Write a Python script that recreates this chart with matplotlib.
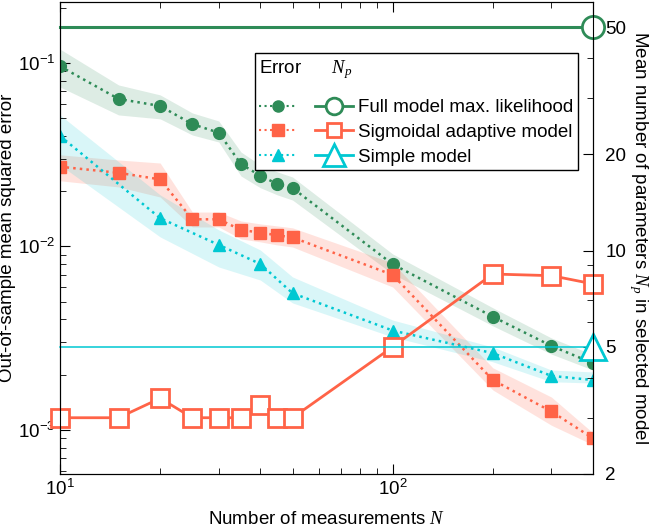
import numpy as np
import matplotlib
matplotlib.use('Agg')
import matplotlib.pyplot as plt
from matplotlib.lines import Line2D
from matplotlib.legend_handler import HandlerTuple
from matplotlib.ticker import NullFormatter, FixedLocator, FixedFormatter

plt.rcParams['font.family'] = ['Liberation Sans', 'DejaVu Sans']
plt.rcParams['font.size'] = 13.5
plt.rcParams['mathtext.fontset'] = 'custom'
plt.rcParams['mathtext.it'] = 'Liberation Serif:italic'
plt.rcParams['mathtext.rm'] = 'Liberation Sans'

# number of measurements
N = [10, 15, 20, 25, 30, 35, 40, 45, 50, 100, 200, 300, 400]
N_simple = [10, 20, 30, 40, 50, 100, 200, 300, 400]

# out-of-sample error, full model max. likelihood
err_full = [0.096, 0.0637, 0.0583, 0.0464, 0.0417, 0.0281, 0.0243, 0.0219, 0.0208, 0.0080, 0.00414, 0.00287, 0.00231]
err_full_lo = [0.074, 0.0521, 0.0496, 0.0405, 0.0371, 0.0242, 0.0209, 0.0191, 0.0179, 0.00708, 0.00369, 0.00259, 0.00212]
err_full_hi = [0.119, 0.0759, 0.0670, 0.0534, 0.0483, 0.0327, 0.0278, 0.0255, 0.0239, 0.0091, 0.00463, 0.00317, 0.00257]

# out-of-sample error, sigmoidal adaptive model
err_sig = [0.0272, 0.0252, 0.0232, 0.01406, 0.01406, 0.0123, 0.0119, 0.0115, 0.0112, 0.0070, 0.00187, 0.00126, 0.00090]
err_sig_lo = [0.0228, 0.0211, 0.0186, 0.01277, 0.01277, 0.01099, 0.01059, 0.01019, 0.00993, 0.00601, 0.00165, 0.00106, 0.000829]
err_sig_hi = [0.0316, 0.0296, 0.0285, 0.0154, 0.0154, 0.01377, 0.01327, 0.01294, 0.01263, 0.00813, 0.00218, 0.00151, 0.000963]

# out-of-sample error, simple model
err_simple = [0.0400, 0.01426, 0.0102, 0.00803, 0.00556, 0.00348, 0.00262, 0.00197, 0.00187]
err_simple_lo = [0.0278, 0.01127, 0.00773, 0.00656, 0.00492, 0.00321, 0.00235, 0.00183, 0.00180]
err_simple_hi = [0.0521, 0.0191, 0.01231, 0.00957, 0.00682, 0.00397, 0.00283, 0.00212, 0.00207]

# mean number of parameters
np_full = [50, 50, 50, 50, 50, 50, 50, 50, 50, 50, 50, 50, 50]
np_sig = [3.0, 3.0, 3.45, 3.0, 3.0, 3.0, 3.3, 3.0, 3.0, 5.0, 8.45, 8.35, 7.87]
np_simple = [5, 5, 5, 5, 5, 5, 5, 5, 5]

labels = ['Full model max. likelihood', 'Sigmoidal adaptive model', 'Simple model']

green = '#2e8b57'
red = '#ff6347'
cyan = '#00c8d2'

fig = plt.figure(figsize=(6.52, 5.28), dpi=100)
ax = fig.add_axes([60 / 652, 1 - 474 / 528, 533 / 652, 472 / 528])

# bands
ax.fill_between(N, err_full_lo, err_full_hi, color=green, alpha=0.16, lw=0)
ax.fill_between(N, err_sig_lo, err_sig_hi, color=red, alpha=0.18, lw=0)
ax.fill_between(N_simple, err_simple_lo, err_simple_hi, color=cyan, alpha=0.15, lw=0)

# error curves
ax.plot(N, err_full, ':', color=green, lw=1.8, marker='o', ms=8.5)
ax.plot(N, err_sig, ':', color=red, lw=1.8, marker='s', ms=8)
ax.plot(N_simple, err_simple, ':', color=cyan, lw=1.8, marker='^', ms=8.5)

ax.set_xscale('log')
ax.set_yscale('log')
ax.set_xlim(10, 400)
ax.set_ylim(5.75e-4, 0.215)
ax.set_xlabel('Number of measurements $N$', labelpad=9)
ax.set_ylabel('Out-of-sample mean squared error', labelpad=1)
ax.tick_params(which='both', direction='in', top=True, right=False)
ax.tick_params(which='major', length=7)
ax.tick_params(which='minor', length=4)

# number of parameters on the right axis
ax2 = ax.twinx()
ax2.set_yscale('log')
ax2.plot(N, np_full, '-', color=green, lw=2.2, marker='o', ms=16, mfc='white',
         mew=2, markevery=[len(N) - 1], clip_on=False)
ax2.plot(N, np_sig, '-', color=red, lw=2, marker='s', ms=13, mfc='white', mew=2,
         clip_on=False)
ax2.plot(N_simple, np_simple, '-', color=cyan, lw=1.1, marker='^', ms=19, mfc='white',
         mew=2, markevery=[len(N_simple) - 1], clip_on=False)
ax2.set_ylim(2, 60)
ax2.yaxis.set_major_locator(FixedLocator([2, 5, 10, 20, 50]))
ax2.yaxis.set_major_formatter(FixedFormatter(['2', '5', '10', '20', '50']))
ax2.yaxis.set_minor_locator(FixedLocator([3, 4, 6, 7, 8, 9, 30, 40]))
ax2.yaxis.set_minor_formatter(NullFormatter())
ax2.tick_params(which='both', direction='in')
ax2.tick_params(which='major', length=7, pad=9)
ax2.tick_params(which='minor', length=4)
ax2.set_ylabel('Mean number of parameters $N_p$ in selected model', rotation=270,
               labelpad=17)

# legend
err_h = [Line2D([], [], ls=':', color=c, lw=1.5, marker=m, ms=8)
         for c, m in zip([green, red, cyan], ['o', 's', '^'])]
np_h = [Line2D([], [], ls='-', color=c, lw=2, marker=m, ms=s, mfc='white', mew=2)
        for c, m, s in zip([green, red, cyan], ['o', 's', '^'], [12, 10, 16])]
leg = ax2.legend(handles=list(zip(err_h, np_h)), labels=labels,
                 handler_map={tuple: HandlerTuple(ndivide=None, pad=0.96)},
                 handlelength=5.0, loc='upper right', bbox_to_anchor=(0.972, 0.892),
                 fancybox=False, edgecolor='black', framealpha=1,
                 title='Error      $N_p$', alignment='left', fontsize=13.5,
                 title_fontsize=13.5, borderaxespad=0, borderpad=0.25,
                 handletextpad=0.27, labelspacing=0.4)
leg.get_frame().set_linewidth(1.0)
# extra gap between the title row and the entries
leg._legend_box.sep = 13.5 * 0.4 + 8

fig.savefig('out.png', dpi=100)
